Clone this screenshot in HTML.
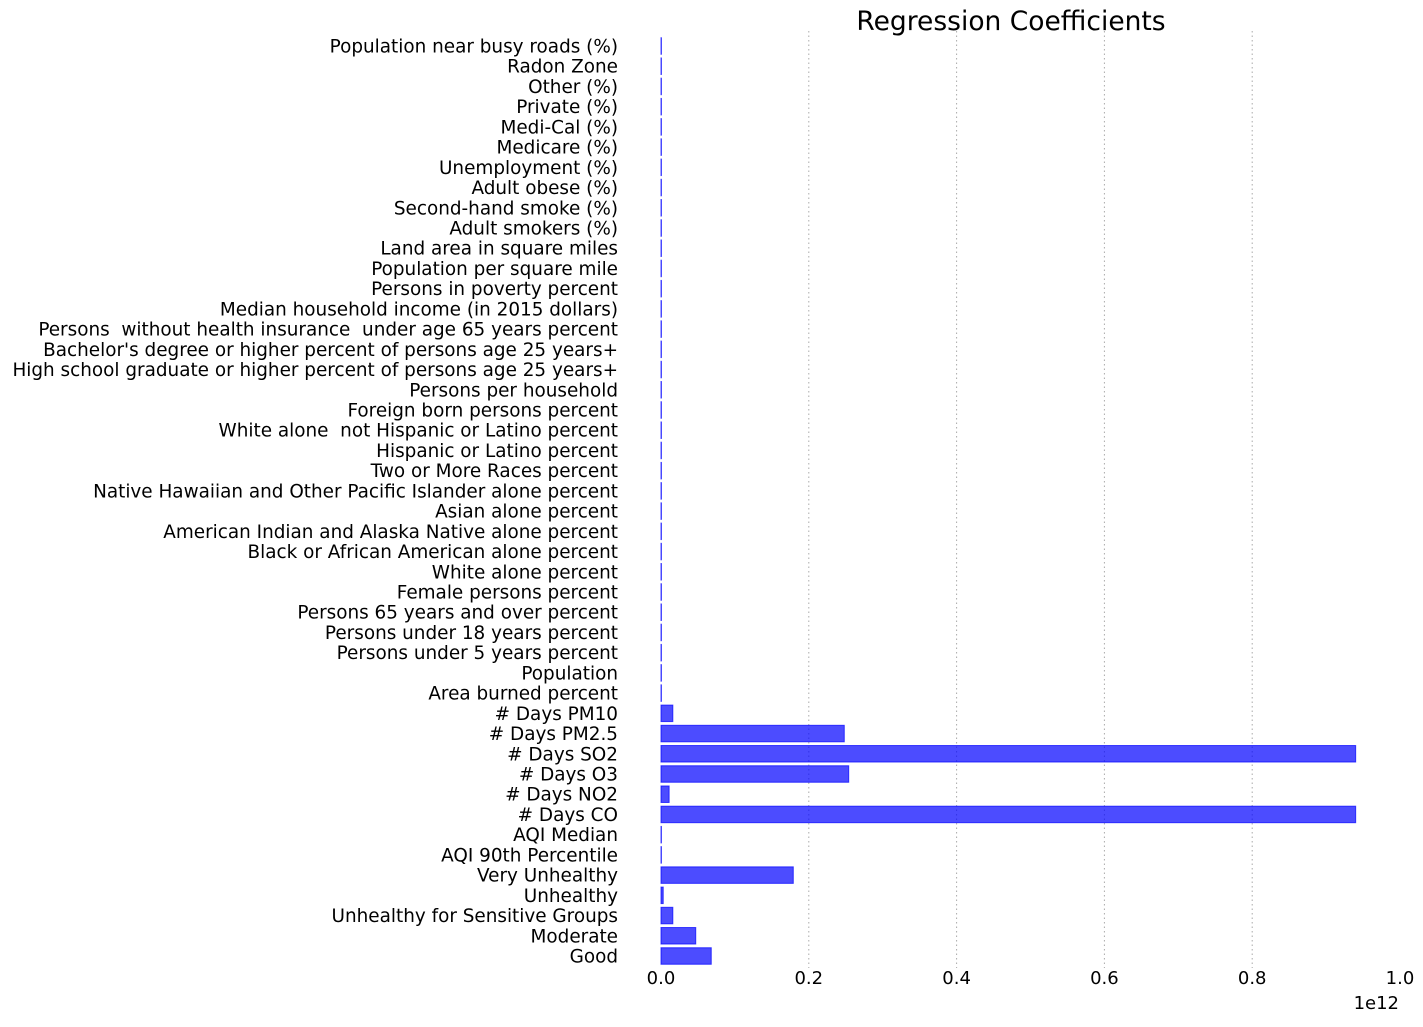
<!DOCTYPE html>
<html><head><meta charset="utf-8"><style>
body{margin:0;background:#fff;}
svg text{font-family:"DejaVu Sans","Liberation Sans",sans-serif;fill:#000;white-space:pre;}
</style></head><body>
<svg id="chart" width="1423" height="1022" xmlns="http://www.w3.org/2000/svg">
<text x="1011" y="30" font-size="26.5" text-anchor="middle">Regression Coefficients</text>
<g id="grid"></g><g id="bars"></g><g id="labels"></g><g id="xticks"></g>
<text x="1399" y="1009" font-size="18" text-anchor="end">1e12</text>
</svg>
<script>
const categories=["Good","Moderate","Unhealthy for Sensitive Groups","Unhealthy","Very Unhealthy","AQI 90th Percentile","AQI Median","# Days CO","# Days NO2","# Days O3","# Days SO2","# Days PM2.5","# Days PM10","Area burned percent","Population","Persons under 5 years percent","Persons under 18 years percent","Persons 65 years and over percent","Female persons percent","White alone percent","Black or African American alone percent","American Indian and Alaska Native alone percent","Asian alone percent","Native Hawaiian and Other Pacific Islander alone percent","Two or More Races percent","Hispanic or Latino percent","White alone  not Hispanic or Latino percent","Foreign born persons percent","Persons per household","High school graduate or higher percent of persons age 25 years+","Bachelor's degree or higher percent of persons age 25 years+","Persons  without health insurance  under age 65 years percent","Median household income (in 2015 dollars)","Persons in poverty percent","Population per square mile","Land area in square miles","Adult smokers (%)","Second-hand smoke (%)","Adult obese (%)","Unemployment (%)","Medicare (%)","Medi-Cal (%)","Private (%)","Other (%)","Radon Zone","Population near busy roads (%)"];
const values=[0.068,0.047,0.016,0.003,0.179,0.0005,0.0005,0.940,0.011,0.254,0.940,0.248,0.016,0.0005,0,0,0,0,0,0,0,0,0,0,0,0,0,0,0,0,0,0,0,0,0,0,0,0,0,0,0,0,0,0,0,0];
const tickValues=[0,0.2,0.4,0.6,0.8,1.0];
const tickLabels=["0.0","0.2","0.4","0.6","0.8","1.0"];
const NS="http://www.w3.org/2000/svg";
const x0=661,x1=1400,yBottom=956,yTop=46;
function xs(v){return x0+v*(x1-x0);}
function ys(i){return yBottom-i*(yBottom-yTop)/(categories.length-1);}
function mk(t,a,p){const e=document.createElementNS(NS,t);for(const k in a)e.setAttribute(k,a[k]);document.getElementById(p).appendChild(e);return e;}
const bh=16.5;
categories.forEach((c,i)=>{
  const w=Math.max(values[i]*(x1-x0),0.4);
  const r=mk('rect',{x:x0,y:ys(i)-bh/2,width:w,height:bh,fill:'rgba(0,0,255,0.7)',stroke:'rgba(0,0,255,0.7)','stroke-width':1},'bars');
  
  
  const t=mk('text',{x:618,y:ys(i)+6.5,'font-size':18.4,'text-anchor':'end'},'labels');
  t.textContent=c;
  
  
});
tickValues.forEach((v,i)=>{
  if(v>0&&v<1){const g=mk('line',{x1:xs(v),x2:xs(v),y1:yTop-15,y2:yBottom+12,stroke:'#aaa','stroke-width':1,'stroke-dasharray':'1.5,3'},'grid');
  
  }
  const t=mk('text',{x:xs(v),y:984,'font-size':18,'text-anchor':'middle'},'xticks');
  t.textContent=tickLabels[i];
  
  
});
</script>
</body></html>
